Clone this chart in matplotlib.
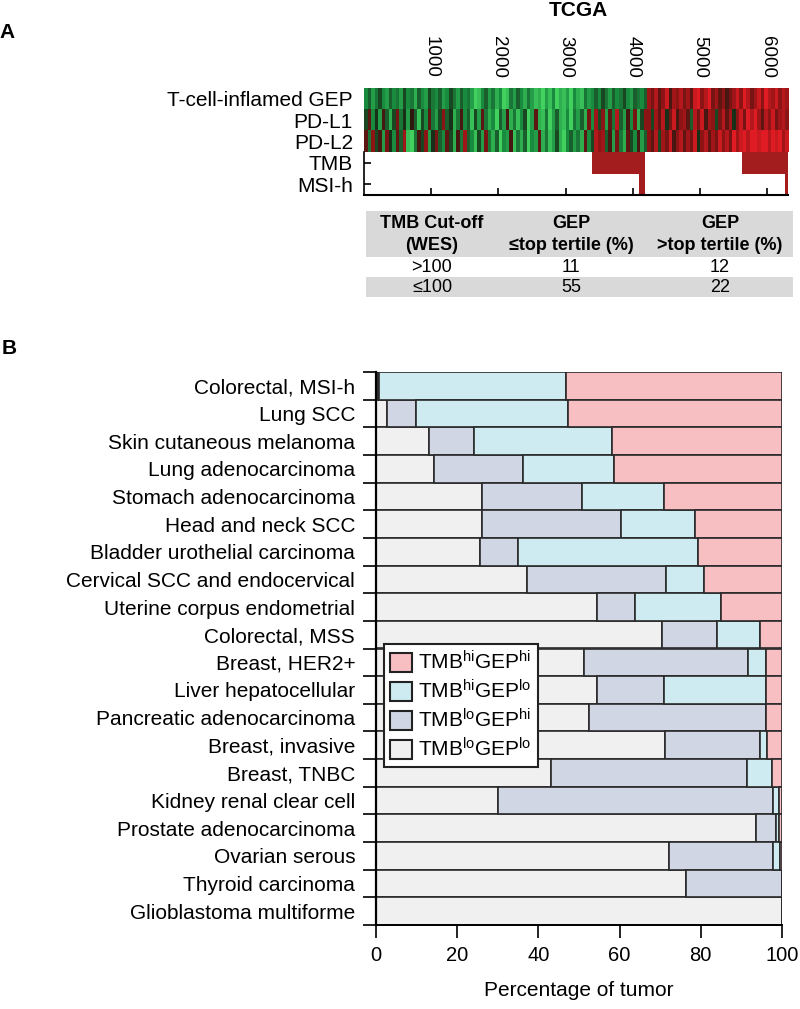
import numpy as np
import matplotlib
matplotlib.use("Agg")
import matplotlib.pyplot as plt
from matplotlib.colors import LinearSegmentedColormap
from matplotlib.patches import Rectangle, Patch

plt.rcParams['font.family'] = ['Liberation Sans', 'DejaVu Sans']
plt.rcParams['mathtext.fontset'] = 'custom'
plt.rcParams['mathtext.rm'] = 'Liberation Sans'
plt.rcParams['mathtext.it'] = 'Liberation Sans:italic'
plt.rcParams['mathtext.bf'] = 'Liberation Sans:bold'

# ---------------- Panel A data ----------------
heat_rows = ["T-cell-inflamed GEP", "PD-L1", "PD-L2", "TMB", "MSI-h"]
# samples per group (sorted): TMBlo/GEPlo, TMBhi/GEPlo, TMBlo/GEPhi, TMBhi/GEPhi
group_sizes = [3400, 780, 1450, 680]
group_tmb_high = [0, 1, 0, 1]
group_msi_h = [0, 90, 0, 40]
x_ticks_a = [1000, 2000, 3000, 4000, 5000, 6000]

# binned expression (tenths, -9 green .. +9 red), 120 bins across all samples
gep_bins = [-5,-3,-6,-4,-2,-5,-6,-3,-5,-4, -6,-2,-5,-4,-7,-3,-5,-6,-2,-4,
            -5,-3,-6,-5,-2,-4,-6,-3,-5,-4, -6,-9,-8,-5,-3,-6,-4,-7,-5,-9,
            -8,-4,-6,-3,-5,-7,-4,-6,-8,-7, -9,-6,-8,-5,-9,-7,-8,-6,-9,-5,
            -7,-8,-4,-6,-5,-3,-5,-2,-4,-6, -3,-5,-4,-2,-5,-6,-3,-4,-5,-3,
            6,4,7,3,5,8,2,6,5,7, 4,6,3,8,9,5,7,9,4,6,
            3,5,2,4,6,8,5,9,7,4, 6,8,5,9,7,6,8,5,7,6]
pdl1_bins = [-2,3,-5,-1,-6,2,-3,-7,-2,4, -4,-1,-6,1,-3,-8,-2,-5,3,-4,
             -6,-2,5,-3,-1,-7,-4,2,-5,-3, -8,-2,-6,3,-4,-7,-5,-9,-3,-6,
             2,-7,-4,-8,-5,-2,-9,-6,3,-7, -8,-4,-9,-6,-3,-7,-8,-5,-9,-4,
             -6,-3,-7,4,-5,6,-2,5,-6,3, -4,7,-3,-6,2,-5,4,-7,-2,5,
             5,-2,6,3,7,-1,4,8,2,5, 6,3,-3,7,4,8,2,6,5,-2,
             4,7,3,6,-1,5,8,4,9,7, 9,6,3,7,5,8,4,6,7,5]
pdl2_bins = [3,-4,5,-2,2,-6,4,-1,-5,3, -3,6,-8,-9,-4,2,-2,5,-6,-1,
             4,-3,-5,3,-2,-7,2,-4,6,-3, -5,-8,-2,-6,4,-4,-7,-3,-9,-5,
             -6,2,-8,-4,-7,-3,-9,-5,-6,3, -7,-4,-8,-6,-2,-7,-9,-5,-3,-6,
             -4,-7,3,-5,-2,7,5,6,-3,2, -6,4,-4,-7,3,-2,-5,2,-6,-3,
             5,3,7,-2,6,4,8,2,5,7, 3,6,4,8,-1,5,7,3,6,4,
             8,5,7,4,9,6,8,9,7,9, 9,8,9,9,7,9,8,9,6,8]

table_header = [["TMB Cut-off", "(WES)"], ["GEP", "\u2264top tertile (%)"], ["GEP", ">top tertile (%)"]]
table_rows = [[">100", "11", "12"], ["\u2264100", "55", "22"]]

# ---------------- Panel B data ----------------
tumors = ["Colorectal, MSI-h", "Lung SCC", "Skin cutaneous melanoma", "Lung adenocarcinoma",
          "Stomach adenocarcinoma", "Head and neck SCC", "Bladder urothelial carcinoma",
          "Cervical SCC and endocervical", "Uterine corpus endometrial", "Colorectal, MSS",
          "Breast, HER2+", "Liver hepatocellular", "Pancreatic adenocarcinoma", "Breast, invasive",
          "Breast, TNBC", "Kidney renal clear cell", "Prostate adenocarcinoma", "Ovarian serous",
          "Thyroid carcinoma", "Glioblastoma multiforme"]
tmblo_geplo = [0.4, 2.6, 13.1, 14.3, 26.1, 26.1, 25.6, 37.3, 54.4, 70.5,
               51.2, 54.4, 52.4, 71.1, 43.0, 30.0, 93.6, 72.1, 76.3, 100.0]
tmblo_gephi = [0.4, 7.3, 11.1, 21.8, 24.7, 34.2, 9.3, 34.1, 9.5, 13.6,
               40.5, 16.5, 43.6, 23.5, 48.3, 67.9, 4.9, 25.8, 23.7, 0.0]
tmbhi_geplo = [45.9, 37.3, 34.0, 22.4, 20.1, 18.2, 44.5, 9.3, 21.1, 10.5,
               4.3, 25.1, 0.0, 1.8, 6.2, 1.4, 0.7, 1.6, 0.0, 0.0]
tmbhi_gephi = [53.3, 52.8, 41.8, 41.5, 29.1, 21.5, 20.6, 19.3, 15.0, 5.4,
               4.0, 4.0, 4.0, 3.6, 2.5, 0.7, 0.8, 0.5, 0.0, 0.0]
x_ticks_b = [0, 20, 40, 60, 80, 100]

# ---------------- figure ----------------
W, H = 800, 1009
fig = plt.figure(figsize=(W / 100, H / 100), dpi=100)

def fx(px):
    return px / W

def fy(py):
    return 1 - py / H

# Panel A heatmap
n_total = sum(group_sizes)
axh = fig.add_axes([fx(364), fy(195), fx(788) - fx(364), fy(88) - fy(195)])
cmap = LinearSegmentedColormap.from_list(
    "gr", [(0.0, (0.30, 0.88, 0.40)), (0.25, (0.10, 0.55, 0.25)), (0.5, (0.10, 0.10, 0.06)),
           (0.75, (0.55, 0.08, 0.08)), (1.0, (0.95, 0.12, 0.16))])
heat = np.array([gep_bins, pdl1_bins, pdl2_bins], dtype=float) / 10.0
axh.imshow(heat, cmap=cmap, vmin=-1, vmax=1, extent=(0, n_total, 3, 0),
           aspect='auto', interpolation='nearest')
tmb_red = '#a31d1f'
start = 0
for size, hi, msi in zip(group_sizes, group_tmb_high, group_msi_h):
    if hi:
        axh.add_patch(Rectangle((start, 3), size, 1, facecolor=tmb_red, edgecolor='none'))
    if msi:
        axh.add_patch(Rectangle((start + size - msi, 4), msi, 1, facecolor=tmb_red, edgecolor='none'))
    start += size
axh.set_xlim(0, n_total)
axh.set_ylim(5, 0)
axh.set_xticks(x_ticks_a)
axh.set_xticklabels([str(t) for t in x_ticks_a], rotation=-90, fontsize=13.5)
axh.tick_params(axis='x', top=False, labeltop=True, bottom=True, labelbottom=False,
                direction='in', length=5, width=1.2, pad=7)
axh.set_yticks(np.arange(5) + 0.5)
axh.set_yticklabels(heat_rows, fontsize=15)
axh.tick_params(axis='y', which='major', length=0, pad=8)
axh.yaxis.remove_overlapping_locs = False
axh.set_yticks([3.5, 4.5], minor=True)
axh.tick_params(axis='y', which='minor', direction='in', length=5, width=1.2)
for s in ['top', 'right']:
    axh.spines[s].set_visible(False)
axh.spines['left'].set_bounds(3, 5)
axh.spines['left'].set_linewidth(1.2)
axh.spines['bottom'].set_linewidth(1.5)

fig.text(fx(578), fy(11), "TCGA", fontsize=15, fontweight='bold', ha='center', va='center')
fig.text(fx(7), fy(33), "A", fontsize=15, fontweight='bold', ha='center', va='center')
fig.text(fx(9), fy(349), "B", fontsize=15, fontweight='bold', ha='center', va='center')

# Table
tab_left, tab_right = 366, 793
col_centers = [432, 571, 720]
gray = '#d9d9d9'
for (y0, y1, c) in [(211, 257, gray), (277, 297, gray)]:
    fig.add_artist(Rectangle((fx(tab_left), fy(y1)), fx(tab_right) - fx(tab_left), fy(y0) - fy(y1),
                             transform=fig.transFigure, facecolor=c, edgecolor='none'))
for cx, (l1, l2) in zip(col_centers, table_header):
    fig.text(fx(cx), fy(223), l1, fontsize=13, fontweight='bold', ha='center', va='center')
    fig.text(fx(cx), fy(245), l2, fontsize=13, fontweight='bold', ha='center', va='center')
for ry, row in zip([267, 287], table_rows):
    for cx, val in zip(col_centers, row):
        fig.text(fx(cx), fy(ry), val, fontsize=13, ha='center', va='center')

# Panel B stacked bars
axb = fig.add_axes([fx(376), fy(925), fx(782) - fx(376), fy(372) - fy(925)])
colors = {'lolo': '#f0f0f0', 'lohi': '#d1d6e4', 'hilo': '#cdebf1', 'hihi': '#f7bfc2'}
ypos = np.arange(len(tumors))
left = np.zeros(len(tumors))
series = [(tmblo_geplo, 'lolo'), (tmblo_gephi, 'lohi'), (tmbhi_geplo, 'hilo'), (tmbhi_gephi, 'hihi')]
for vals, key in series:
    v = np.array(vals)
    axb.barh(ypos, v, left=left, height=1.0, color=colors[key], edgecolor='#2a2a2a', linewidth=1.2)
    left += v
axb.set_xlim(0, 100)
axb.set_ylim(len(tumors) - 0.5, -0.5)
axb.set_yticks(ypos)
axb.set_yticklabels(tumors, fontsize=15)
axb.tick_params(axis='y', which='major', length=0, pad=15)
axb.set_yticks(np.arange(len(tumors) + 1) - 0.5, minor=True)
axb.tick_params(axis='y', which='minor', direction='out', length=9.5, width=1.4, color='#222222')
axb.set_xticks(x_ticks_b)
axb.set_xticklabels([str(t) for t in x_ticks_b], fontsize=14.5)
axb.tick_params(axis='x', direction='out', length=9, width=1.4, pad=6, color='#222222')
axb.set_xlabel("Percentage of tumor", fontsize=15, labelpad=12)
for s in ['top', 'right']:
    axb.spines[s].set_visible(False)
axb.spines['left'].set_linewidth(1.6)
axb.spines['bottom'].set_linewidth(1.4)

handles = [Patch(facecolor=colors['hihi'], edgecolor='#222222', linewidth=1.5),
           Patch(facecolor=colors['hilo'], edgecolor='#222222', linewidth=1.5),
           Patch(facecolor=colors['lohi'], edgecolor='#222222', linewidth=1.5),
           Patch(facecolor=colors['lolo'], edgecolor='#222222', linewidth=1.5)]
labels = [r'TMB$^{\mathrm{hi}}$GEP$^{\mathrm{hi}}$', r'TMB$^{\mathrm{hi}}$GEP$^{\mathrm{lo}}$',
          r'TMB$^{\mathrm{lo}}$GEP$^{\mathrm{hi}}$', r'TMB$^{\mathrm{lo}}$GEP$^{\mathrm{lo}}$']
leg = fig.legend(handles, labels, loc='upper left', bbox_to_anchor=(fx(384), fy(644)),
                 bbox_transform=fig.transFigure, fontsize=15, frameon=True, fancybox=False,
                 edgecolor='#222222', framealpha=1, borderpad=0.3, labelspacing=0.28,
                 handlelength=1.05, handleheight=1.0, handletextpad=0.3, borderaxespad=0)
leg.get_frame().set_linewidth(1.5)

fig.savefig("out.png", dpi=100)
